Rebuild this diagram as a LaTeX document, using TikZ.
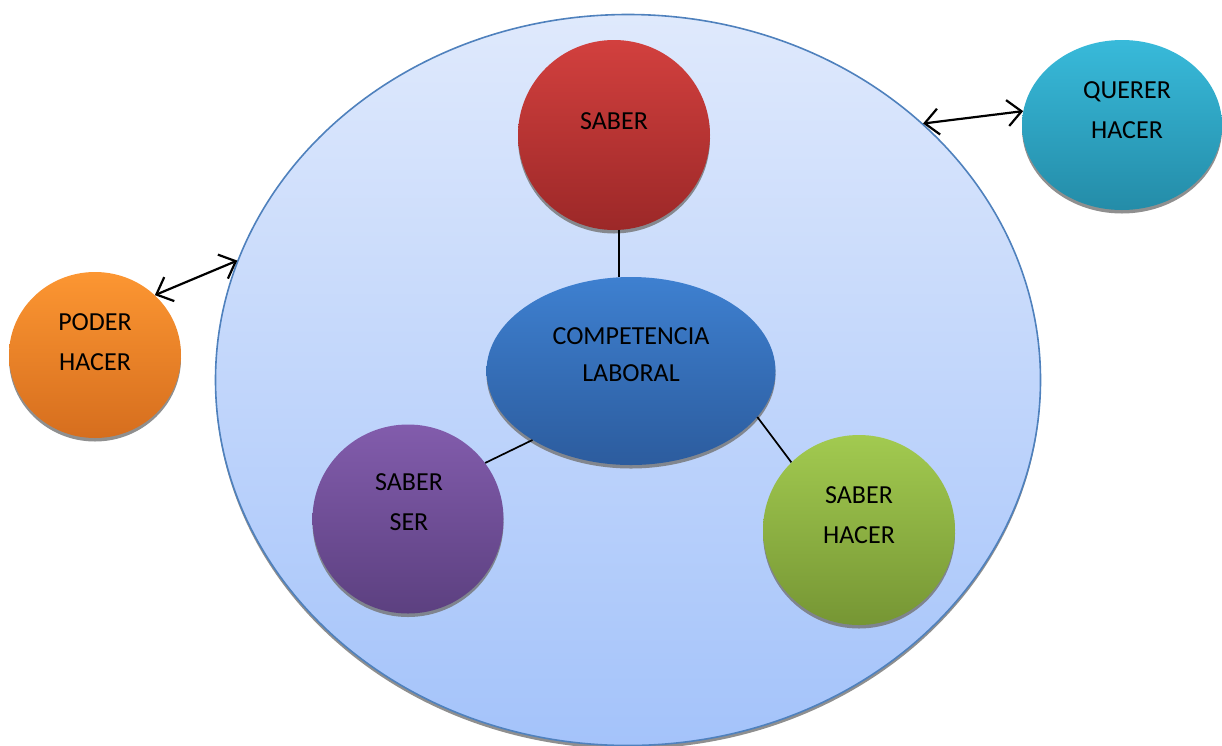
\documentclass[tikz,border=0pt]{standalone}
\usepackage{fontspec}
\setmainfont{Carlito}
\usetikzlibrary{shapes.geometric,shadows,arrows.meta}

\definecolor{bigT}{RGB}{223,233,252}
\definecolor{bigB}{RGB}{164,195,250}
\definecolor{bigLine}{RGB}{79,129,189}
\definecolor{redT}{RGB}{210,64,62}
\definecolor{redB}{RGB}{156,40,40}
\definecolor{blueT}{RGB}{62,128,208}
\definecolor{blueB}{RGB}{44,92,158}
\definecolor{purT}{RGB}{130,92,172}
\definecolor{purB}{RGB}{92,64,128}
\definecolor{grnT}{RGB}{162,202,80}
\definecolor{grnB}{RGB}{118,150,52}
\definecolor{orgT}{RGB}{252,150,50}
\definecolor{orgB}{RGB}{214,110,30}
\definecolor{tealT}{RGB}{56,186,218}
\definecolor{tealB}{RGB}{36,140,168}

\begin{document}
\begin{tikzpicture}[x=1pt,y=-1pt,
  ball/.style={ellipse, inner sep=0pt,
    drop shadow={shadow xshift=0pt, shadow yshift=-3.5pt, fill=black!55, opacity=0.8}},
  txt/.style={font=\fontsize{26}{40}\selectfont, align=center, text=black},
  link/.style={draw=black, line width=1.7pt},
  tip/.tip={Straight Barb[length=14pt,width=26pt]},
  twoway/.style={draw=black, line width=2.2pt, tip-tip}]
\useasboundingbox (0,0) rectangle (1222,745);

% outer field
\node[ball, minimum width=825, minimum height=731, top color=bigT, bottom color=bigB,
      draw=bigLine, line width=1.6pt] (big) at (628,380) {};

% inner spheres
\node[ball, minimum width=192, minimum height=190, top color=redT, bottom color=redB] (saber) at (614,135) {};
\node[ball, minimum width=289, minimum height=188, top color=blueT, bottom color=blueB] (comp) at (631,371) {};
\node[ball, minimum width=191, minimum height=189, top color=purT, bottom color=purB] (ser) at (408,519) {};
\node[ball, minimum width=192, minimum height=190, top color=grnT, bottom color=grnB] (hacer) at (859,530) {};

% outer spheres
\node[ball, minimum width=172, minimum height=166, top color=orgT, bottom color=orgB] (poder) at (95,355) {};
\node[ball, minimum width=200, minimum height=170, top color=tealT, bottom color=tealB] (querer) at (1122,125) {};

% labels
\node[txt] (saberT) at (614,121) {SABER};
\node[txt, font=\fontsize{26}{37}\selectfont] (compT) at (631,355) {COMPETENCIA\\LABORAL};
\node[txt] (serT) at (409,502) {SABER\\SER};
\node[txt] (hacerT) at (859,515) {SABER\\HACER};
\node[txt] (poderT) at (95,342) {PODER\\HACER};
\node[txt] (quererT) at (1127,110) {QUERER\\HACER};

% links
\draw[link] ([xshift=5pt]saber.south) -- ([xshift=5pt]saber.south |- comp.north);
\draw[link] (ser.36) -- (comp.215);
\draw[link] (hacer.135) -- (comp.-20);
\draw[twoway] (big.41) -- (querer.172);
\draw[twoway] (poder.45) -- (big.163);
\end{tikzpicture}
\end{document}
